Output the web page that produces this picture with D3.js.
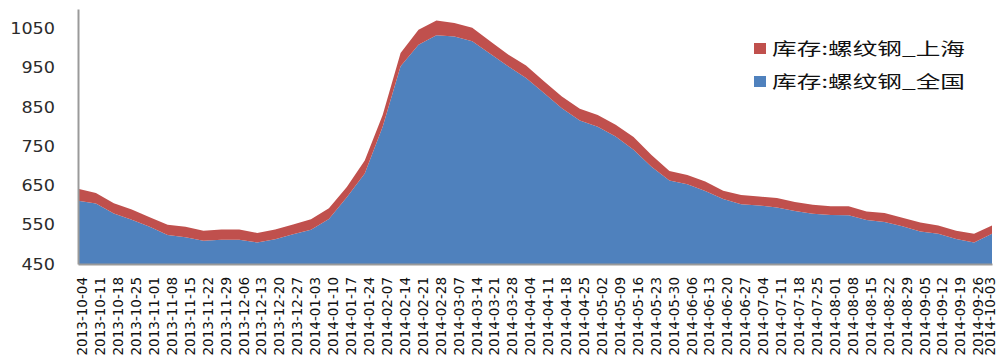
<!DOCTYPE html>
<html>
<head>
<meta charset="utf-8">
<script src="https://cdn.jsdelivr.net/npm/d3@7"></script>
<style>
  html, body { margin: 0; padding: 0; background: #ffffff; }
  svg { display: block; }
</style>
</head>
<body>
<svg id="chart" width="1002" height="357"></svg>
<script>
// Weekly rebar inventory (万吨), national total with Shanghai stacked on top
const dates = [
  "2013-10-04","2013-10-11","2013-10-18","2013-10-25","2013-11-01","2013-11-08","2013-11-15",
  "2013-11-22","2013-11-29","2013-12-06","2013-12-13","2013-12-20","2013-12-27","2014-01-03",
  "2014-01-10","2014-01-17","2014-01-24","2014-02-07","2014-02-14","2014-02-21","2014-02-28",
  "2014-03-07","2014-03-14","2014-03-21","2014-03-28","2014-04-04","2014-04-11","2014-04-18",
  "2014-04-25","2014-05-02","2014-05-09","2014-05-16","2014-05-23","2014-05-30","2014-06-06",
  "2014-06-13","2014-06-20","2014-06-27","2014-07-04","2014-07-11","2014-07-18","2014-07-25",
  "2014-08-01","2014-08-08","2014-08-15","2014-08-22","2014-08-29","2014-09-05","2014-09-12",
  "2014-09-19","2014-09-26","2014-10-03"
];

const nationalStock = [
  611, 604, 579, 563, 545, 524, 518, 509, 512, 512, 505, 513, 526, 537,
  565, 620, 681, 800, 954, 1009, 1033, 1030, 1018, 986, 954, 924, 886, 847,
  816, 800, 775, 741, 698, 663, 653, 636, 616, 602, 599, 594, 585, 578,
  575, 574, 562, 557, 546, 533, 527, 514, 505, 527
];

const shanghaiStock = [
  31, 27, 26, 26, 24, 26, 27, 26, 26, 26, 24, 25, 25, 27,
  27, 26, 33, 30, 34, 38, 38, 34, 34, 32, 30, 32, 30, 30,
  30, 30, 30, 33, 30, 24, 24, 24, 21, 24, 23, 24, 23, 23,
  22, 23, 22, 23, 22, 23, 21, 21, 22, 21
];

const seriesNames = ["库存:螺纹钢_全国", "库存:螺纹钢_上海"];
const seriesColors = ["#4F81BD", "#C0504D"];
const yTicks = [450, 550, 650, 750, 850, 950, 1050];
const yDomain = [450, 1100];

const svg = d3.select("#chart");
const plot = { left: 78, right: 992, top: 9, bottom: 264 };

const x = d3.scalePoint().domain(dates).range([plot.left, plot.right]);
const y = d3.scaleLinear().domain(yDomain).range([plot.bottom, plot.top]);

// stacked layers: national at the bottom, Shanghai above it
const rows = dates.map((d, i) => ({ date: d, national: nationalStock[i], shanghai: shanghaiStock[i] }));
const layers = d3.stack().keys(["national", "shanghai"])(rows);

// national layer fills down to the axis floor
layers[0].forEach(p => { p[0] = yDomain[0]; });

const area = d3.area()
  .x(d => x(d.data.date))
  .y0(d => y(d[0]))
  .y1(d => y(d[1]));

svg.append("g")
  .selectAll("path")
  .data(layers)
  .join("path")
  .attr("d", area)
  .attr("fill", (d, i) => seriesColors[i]);

// y axis
const yAxis = svg.append("g")
  .attr("transform", `translate(${plot.left},0)`)
  .call(d3.axisLeft(y).tickValues(yTicks).tickFormat(d3.format("d"))
    .tickSize(0).tickSizeOuter(0).tickPadding(23));
yAxis.select(".domain").attr("stroke", "#9a9a9a").attr("stroke-width", 2);
yAxis.selectAll("text")
  .attr("font-family", "DejaVu Sans, Verdana, sans-serif")
  .attr("font-size", 16)
  .attr("fill", "#2b2b2b")
  .attr("textLength", d => String(d).length * 11.2)
  .attr("lengthAdjust", "spacingAndGlyphs");

// x axis with vertical date labels
const xAxis = svg.append("g")
  .attr("transform", `translate(0,${plot.bottom})`)
  .call(d3.axisBottom(x).tickSize(0).tickSizeOuter(0));
xAxis.select(".domain").attr("stroke", "#9a9a9a").attr("stroke-width", 2);
xAxis.selectAll("text")
  .attr("font-family", "DejaVu Sans, Verdana, sans-serif")
  .attr("font-size", 13.5)
  .attr("fill", "#111")
  .attr("text-anchor", "end")
  .attr("transform", "rotate(-90)")
  .attr("x", -13)
  .attr("y", d => Math.min(x(d) + 4, 990) - x(d))
  .attr("dy", "0.35em");

// legend: Shanghai listed first, then national
const legendItems = [
  { name: seriesNames[1], color: seriesColors[1] },
  { name: seriesNames[0], color: seriesColors[0] }
];
const legend = svg.append("g").attr("transform", "translate(754,43)");
const li = legend.selectAll("g")
  .data(legendItems)
  .join("g")
  .attr("transform", (d, i) => `translate(0,${i * 33})`);
li.append("rect")
  .attr("width", 12)
  .attr("height", 11)
  .attr("fill", d => d.color);
li.append("text")
  .attr("x", 18)
  .attr("y", 12)
  .attr("font-family", "Noto Sans CJK SC, sans-serif")
  .attr("font-size", 17)
  .attr("fill", "#111")
  .attr("textLength", 193)
  .attr("lengthAdjust", "spacingAndGlyphs")
  .text(d => d.name);
</script>
</body>
</html>
